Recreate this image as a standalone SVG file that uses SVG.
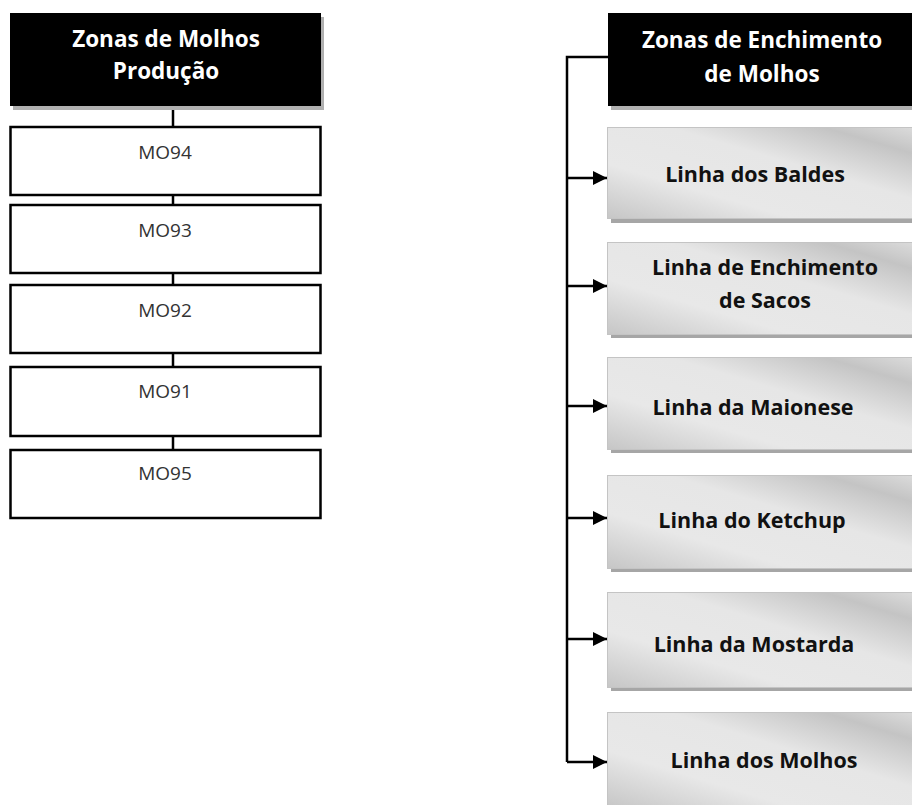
<svg xmlns="http://www.w3.org/2000/svg" width="912" height="805" viewBox="0 0 912 805">
  <style>
    .hdr { fill: #000; }
    .hdr-shadow { fill: #b0b0b0; }
    .hdr-text { font-family: "Open Sans", "Liberation Sans", sans-serif; font-weight: 700; font-size: 22.5px; fill: #fff; text-anchor: middle; }
    .mo { fill: #fff; stroke: #000; stroke-width: 2.5; }
    .mo-text { font-family: "Open Sans", "Liberation Sans", sans-serif; font-size: 19px; fill: #333; text-anchor: middle; }
    .line { fill: url(#lineFill); stroke: #c4c4c4; stroke-width: 1; }
    .line-shadow { fill: #a6a6a6; }
    .line-text { font-family: "Open Sans", "Liberation Sans", sans-serif; font-weight: 700; font-size: 21.5px; fill: #111; text-anchor: middle; }
    .conn { fill: none; stroke: #000; stroke-width: 2.5; }
  </style>
  <defs>
    <linearGradient id="lineFill" x1="0" y1="1" x2="1" y2="0">
      <stop offset="0" stop-color="#c6c6c6"/>
      <stop offset="0.3" stop-color="#e8e8e8"/>
      <stop offset="0.6" stop-color="#e6e6e6"/>
      <stop offset="0.85" stop-color="#c4c4c4"/>
      <stop offset="1" stop-color="#dcdcdc"/>
    </linearGradient>
    <marker id="arrow" viewBox="0 0 10 10" refX="10" refY="5" markerWidth="18" markerHeight="14" markerUnits="userSpaceOnUse" orient="auto">
      <path d="M0,0 L10,5 L0,10 Z" fill="#000"/>
    </marker>
  </defs>

  <rect width="912" height="805" fill="#fff"/>

  <!-- connectors -->
  <g id="connectors">
    <!-- production chain -->
    <line class="conn" x1="173" y1="106" x2="173" y2="127"/>
    <line class="conn" x1="173" y1="195" x2="173" y2="205"/>
    <line class="conn" x1="173" y1="273" x2="173" y2="285"/>
    <line class="conn" x1="173" y1="353" x2="173" y2="367"/>
    <line class="conn" x1="173" y1="436" x2="173" y2="450"/>
    <!-- filling tree -->
    <polyline class="conn" points="608,57 567,57 567,762"/>
    <line class="conn" x1="567" y1="178" x2="607" y2="178" marker-end="url(#arrow)"/>
    <line class="conn" x1="567" y1="286" x2="607" y2="286" marker-end="url(#arrow)"/>
    <line class="conn" x1="567" y1="406" x2="607" y2="406" marker-end="url(#arrow)"/>
    <line class="conn" x1="567" y1="518" x2="607" y2="518" marker-end="url(#arrow)"/>
    <line class="conn" x1="567" y1="639" x2="607" y2="639" marker-end="url(#arrow)"/>
    <line class="conn" x1="567" y1="762" x2="607" y2="762" marker-end="url(#arrow)"/>
  </g>

  <!-- production zone -->
  <g id="hdr-producao">
    <rect class="hdr-shadow" x="13" y="17" width="311" height="93"/>
    <rect class="hdr" x="10" y="13" width="311" height="93"/>
    <text class="hdr-text" x="166" y="47">Zonas de Molhos</text>
    <text class="hdr-text" x="166" y="79">Produção</text>
  </g>
  <g id="mo94">
    <rect class="mo" x="10.5" y="127" width="310" height="68"/>
    <text class="mo-text" x="165" y="159">MO94</text>
  </g>
  <g id="mo93">
    <rect class="mo" x="10.5" y="205" width="310" height="68"/>
    <text class="mo-text" x="165" y="237">MO93</text>
  </g>
  <g id="mo92">
    <rect class="mo" x="10.5" y="285" width="310" height="68"/>
    <text class="mo-text" x="165" y="317">MO92</text>
  </g>
  <g id="mo91">
    <rect class="mo" x="10.5" y="367" width="310" height="69"/>
    <text class="mo-text" x="165" y="398">MO91</text>
  </g>
  <g id="mo95">
    <rect class="mo" x="10.5" y="450" width="310" height="68"/>
    <text class="mo-text" x="165" y="480">MO95</text>
  </g>

  <!-- filling zone -->
  <g id="hdr-enchimento">
    <rect class="hdr-shadow" x="611" y="17" width="310" height="93"/>
    <rect class="hdr" x="608" y="13" width="310" height="93"/>
    <text class="hdr-text" x="762" y="48">Zonas de Enchimento</text>
    <text class="hdr-text" x="762" y="82">de Molhos</text>
  </g>
  <g id="linha-baldes">
    <rect class="line-shadow" x="611" y="131" width="310" height="92"/>
    <rect class="line" x="607.5" y="127.5" width="310" height="91"/>
    <text class="line-text" x="755" y="182">Linha dos Baldes</text>
  </g>
  <g id="linha-sacos">
    <rect class="line-shadow" x="611" y="246" width="310" height="92"/>
    <rect class="line" x="607.5" y="242.5" width="310" height="92"/>
    <text class="line-text" x="765" y="275">Linha de Enchimento</text>
    <text class="line-text" x="765" y="308">de Sacos</text>
  </g>
  <g id="linha-maionese">
    <rect class="line-shadow" x="611" y="361" width="310" height="92"/>
    <rect class="line" x="607.5" y="357.5" width="310" height="92"/>
    <text class="line-text" x="753" y="415">Linha da Maionese</text>
  </g>
  <g id="linha-ketchup">
    <rect class="line-shadow" x="611" y="479" width="310" height="93"/>
    <rect class="line" x="607.5" y="475.5" width="310" height="93"/>
    <text class="line-text" x="752" y="528">Linha do Ketchup</text>
  </g>
  <g id="linha-mostarda">
    <rect class="line-shadow" x="611" y="596" width="310" height="95"/>
    <rect class="line" x="607.5" y="592.5" width="310" height="95"/>
    <text class="line-text" x="754" y="652">Linha da Mostarda</text>
  </g>
  <g id="linha-molhos">
    <rect class="line-shadow" x="611" y="716" width="310" height="95"/>
    <rect class="line" x="607.5" y="712.5" width="310" height="95"/>
    <text class="line-text" x="764" y="768">Linha dos Molhos</text>
  </g>
</svg>
